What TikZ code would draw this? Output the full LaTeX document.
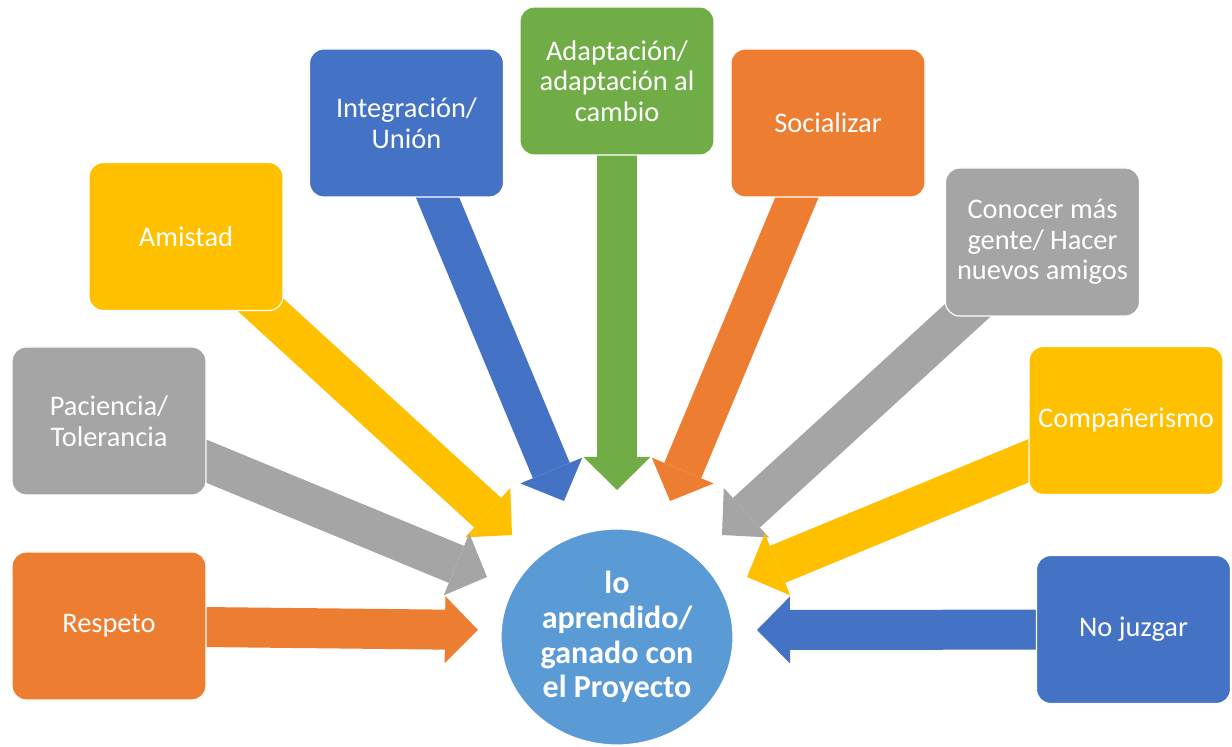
\documentclass[tikz,border=0pt]{standalone}
\usepackage{fontspec}
\setmainfont{Carlito}
\usetikzlibrary{arrows.meta,shapes.geometric,backgrounds}

\definecolor{offOrange}{HTML}{ED7D31}
\definecolor{offGray}{HTML}{A5A5A5}
\definecolor{offYellow}{HTML}{FFC000}
\definecolor{offBlue}{HTML}{4472C4}
\definecolor{offGreen}{HTML}{70AD47}
\definecolor{offSky}{HTML}{5B9BD5}

\begin{document}
\begin{tikzpicture}[x=0.5pt,y=-0.5pt,
  box/.style={rectangle, rounded corners=7pt, draw=white, line width=0.6pt,
    fill=#1, text=white, minimum width=97pt, minimum height=74pt,
    inner sep=2pt, align=center, font=\fontsize{14.2}{15.3}\selectfont},
  blockarrow/.style={draw=#1, line width=20pt,
    -{Triangle[width=33.5pt,length=16.5pt,line width=0pt]}}]

  \useasboundingbox (0,0) rectangle (1232,747);

  \node (Center) [ellipse, fill=offSky, draw=white, line width=0.6pt,
    minimum width=116pt, minimum height=108pt, inner sep=0pt, align=center,
    text=white, font=\bfseries\fontsize{16}{17.3}\selectfont] at (617,637)
    {lo\\aprendido/\\ganado con\\el Proyecto};

  \node (Respeto) [box=offOrange] at (109,626) {Respeto};
  \node (Paciencia) [box=offGray] at (109,421) {Paciencia/\\Tolerancia};
  \node (Amistad) [box=offYellow] at (186,236.5) {Amistad};
  \node (Integracion) [box=offBlue] at (406.5,123) {Integración/\\Unión};
  \node (Adaptacion) [box=offGreen] at (617,81) {Adaptación/\\adaptación al\\cambio};
  \node (Socializar) [box=offOrange] at (828,123) {Socializar};
  \node (Conocer) [box=offGray] at (1042.5,242) {Conocer más\\gente/ Hacer\\nuevos amigos};
  \node (Companerismo) [box=offYellow] at (1126,420.5) {Compañerismo};
  \node (NoJuzgar) [box=offBlue] at (1133.5,629.5) {No juzgar};

  % arrow tips round the circle
  \coordinate (T1) at (478,630);
  \coordinate (T2) at (487,577);
  \coordinate (T3) at (512,535);
  \coordinate (T4) at (564,501);
  \coordinate (T5) at (617,490);
  \coordinate (T6) at (670,501);
  \coordinate (T7) at (722,535);
  \coordinate (T8) at (747,577);
  \coordinate (T9) at (757,630);

  \begin{scope}[on background layer]
    \draw[blockarrow=offOrange] (Respeto.center) -- (T1);
    \draw[blockarrow=offYellow] (Amistad.center) -- (T3);
    \draw[blockarrow=offGray] (Paciencia.center) -- (T2);
    \draw[blockarrow=offBlue] (Integracion.center) -- (T4);
    \draw[blockarrow=offGreen] (Adaptacion.center) -- (T5);
    \draw[blockarrow=offOrange] (Socializar.center) -- (T6);
    \draw[blockarrow=offGray] (Conocer.center) -- (T7);
    \draw[blockarrow=offYellow] (Companerismo.center) -- (T8);
    \draw[blockarrow=offBlue] (NoJuzgar.center) -- (T9);
  \end{scope}

\end{tikzpicture}
\end{document}
